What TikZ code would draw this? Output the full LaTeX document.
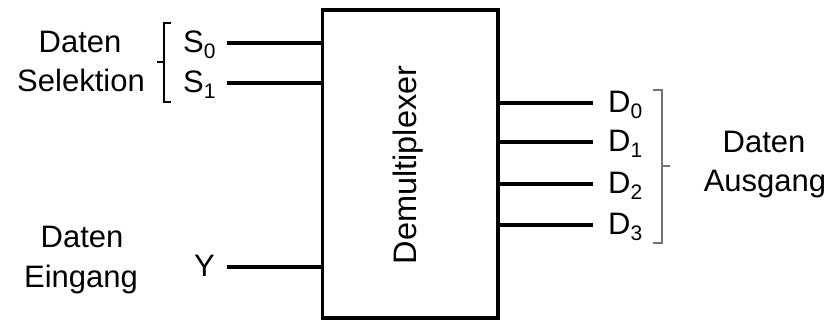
\documentclass[tikz,border=0pt]{standalone}
\usepackage{fontspec}
\setmainfont{Liberation Sans}
\newcommand{\sub}[2]{#1\raisebox{-6pt}{\fontsize{21}{22}\selectfont #2}}
\begin{document}
\begin{tikzpicture}[x=1pt,y=-1pt,
  lbl/.style={font=\fontsize{31}{37}\selectfont, inner sep=0pt, anchor=base},
  pin/.style={font=\fontsize{31}{37}\selectfont, inner sep=0pt, anchor=base west},
  wire/.style={line width=3.5pt},
  brk/.style={line width=1.1pt},
]
\useasboundingbox (0,0) rectangle (830,320);
% box
\node[draw, line width=3.5pt, inner sep=0pt, outer sep=0pt, minimum width=175.5pt, minimum height=308pt] (box) at (410.25,164) {};
\node[font=\fontsize{32.5}{38}\selectfont, rotate=90, inner sep=0pt] (title) at (408,165) {Demultiplexer};
% input labels
\node[pin] (s0) at (183,52.5) {\sub{S}{0}};
\node[pin] (s1) at (183,92.5) {\sub{S}{1}};
\node[pin] (y) at (194,277) {Y};
\coordinate (s0a) at (227,43);
\coordinate (s1a) at (227,83);
\coordinate (ya) at (227,267);
\draw[wire] (s0a) -- (s0a -| box.west);
\draw[wire] (s1a) -- (s1a -| box.west);
\draw[wire] (ya) -- (ya -| box.west);
% outputs
\foreach \i/\yy in {0/103,1/142,2/184,3/225}{
  \coordinate (d\i a) at (593,\yy);
  \draw[wire] (d\i a -| box.east) -- (d\i a);
  \node[pin] (d\i) at (608,\yy+9.5) {\sub{D}{\i}};
}
% brackets
\coordinate (lb1) at (171,23);
\coordinate (lb2) at (164,23);
\coordinate (lb3) at (164,102);
\coordinate (lb4) at (171,102);
\coordinate (lbm) at (164,62);
\coordinate (lbt) at (157,62);
\draw[brk] (lb1) -- (lb2) -- (lb3) -- (lb4);
\draw[brk] (lbm) -- (lbt);
\coordinate (rb1) at (653,90);
\coordinate (rb2) at (662,90);
\coordinate (rb3) at (662,243);
\coordinate (rb4) at (653,243);
\coordinate (rbm) at (662,166);
\coordinate (rbt) at (670,166);
\draw[brk, black!55] (rb1) -- (rb2) -- (rb3) -- (rb4);
\draw[brk, black!55] (rbm) -- (rbt);
% group labels
\node[lbl] (t1) at (80,53) {Daten};
\node[lbl] (t2) at (81,92) {Selektion};
\node[lbl] (t3) at (82,248) {Daten};
\node[lbl] (t4) at (81,288) {Eingang};
\node[lbl] (t5) at (764,153) {Daten};
\node[lbl] (t6) at (765,192) {Ausgang};
\end{tikzpicture}
\end{document}
